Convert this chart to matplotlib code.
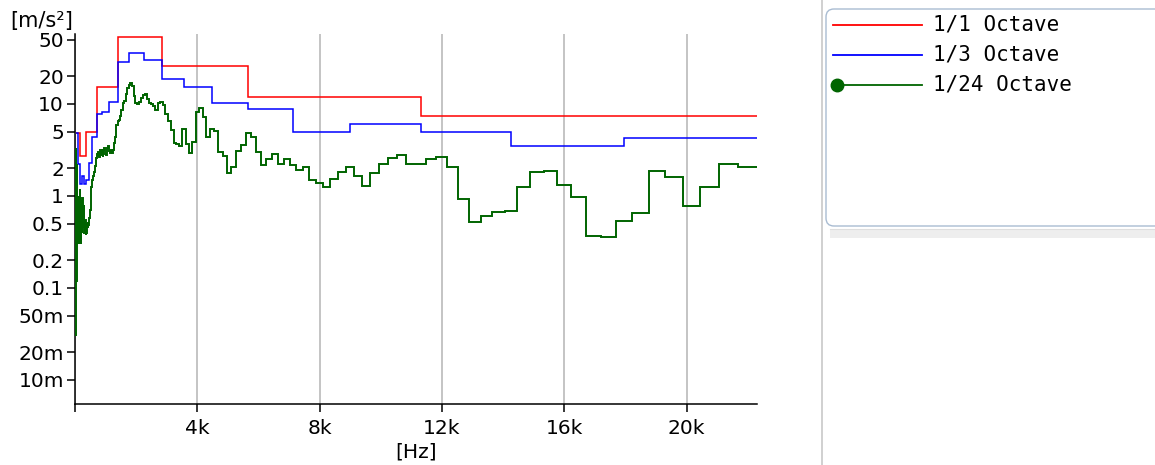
"""Acceleration spectrum in 1/1, 1/3 and 1/24 octave bands, step plot on a log level axis."""

import matplotlib

matplotlib.use("Agg")
import matplotlib.pyplot as plt
import numpy as np
from matplotlib.patches import FancyBboxPatch, Rectangle

plt.rcParams["font.family"] = ["DejaVu Sans", "Noto Sans CJK JP"]

W, H = 1155, 465

# 1/1 octave bands (nominal centre Hz) and levels [m/s2]
OCT_CENTERS = [31.5, 63, 125, 250, 500, 1000, 2000, 4000, 8000, 16000]
OCT_LEVELS = [4.8, 4.8, 4.8, 2.7, 4.9, 15.4, 54.0, 26.1, 12.0, 7.4]

# 1/3 octave bands
THIRD_CENTERS = [25, 31.5, 40, 50, 63, 80, 100, 125, 160, 200, 250, 315, 400, 500,
                 630, 800, 1000, 1250, 1600, 2000, 2500, 3150, 4000, 5000, 6300,
                 8000, 10000, 12500, 16000, 20000]
THIRD_LEVELS = [4.8, 4.8, 4.8, 4.8, 4.8, 4.8, 4.8, 2.2, 2.2, 1.35, 1.65, 1.35, 1.5, 2.3,
                4.4, 7.7, 8.2, 10.6, 28.4, 35.7, 29.8, 18.9, 15.2, 10.2, 8.9,
                5.0, 6.05, 5.0, 3.5, 4.25]

# 1/24 octave bands: band index n relative to 1 kHz, first band below
GREEN_FIRST_BAND = -120
GREEN_LEVELS = [
    # n = -120 .. -25 (below 500 Hz)
    0.03, 3.3, 0.08, 1.2, 0.15, 2.5, 0.3, 0.9, 0.06, 1.8, 0.4, 2.8,
    0.2, 1.0, 0.5, 3.0, 0.12, 1.5, 0.6, 2.2, 0.25, 0.9, 0.45, 1.6,
    0.2, 1.1, 0.35, 0.8, 0.25, 1.3, 0.5, 0.9, 0.3, 0.7, 0.45, 1.0,
    0.3, 0.6, 0.4, 0.85, 0.35, 0.55, 0.3, 0.75, 0.4, 0.6, 0.35, 0.5,
    0.3, 0.7, 0.4, 0.9, 0.35, 0.6, 0.45, 1.2, 0.4, 0.55, 0.35, 0.8,
    0.4, 0.5, 0.3, 0.65, 0.38, 0.9, 0.45, 0.6, 0.4, 0.75, 0.5, 0.95,
    0.45, 0.7, 0.5, 0.95, 0.55, 0.8, 0.45, 0.6, 0.4, 0.5, 0.42, 0.55,
    0.38, 0.45, 0.4, 0.48, 0.42, 0.5, 0.45, 0.52, 0.48, 0.55, 0.58, 0.62,
    # n = -24 .. 48
    0.70, 0.91, 1.10, 1.25, 1.38, 1.49, 1.57, 1.65, 1.82, 1.91, 2.12, 2.34,
    2.59, 2.86, 2.72, 3.01, 2.65, 2.93, 3.16, 2.79, 3.16, 2.65, 3.16, 3.33,
    2.86, 2.79, 3.33, 3.49, 3.09, 2.94, 3.16, 2.94, 3.16, 3.77, 4.38, 5.91,
    6.53, 6.70, 7.41, 8.61, 10.3, 10.8, 12.8, 14.9, 16.1, 16.9, 15.7, 12.2,
    10.3, 10.0, 10.5, 11.6, 12.5, 12.8, 11.3, 10.3, 10.0, 9.51, 8.61, 10.3,
    10.5, 9.75, 7.78, 6.53, 5.21, 3.77, 3.68, 3.49, 5.35, 3.68, 2.94, 3.86, 8.19,
    # n = 49 .. 65
    8.98, 7.28, 4.41, 5.31, 5.13, 3.03, 2.72, 1.77, 2.05, 3.11, 3.58, 4.88,
    4.41, 3.03, 2.17, 2.51, 2.86,
    # n = 66 .. 107
    2.2, 2.5, 2.17, 1.90, 2.07, 1.48, 1.37, 1.26, 1.54, 1.82,
    2.07, 1.66, 1.27, 1.77, 2.23, 2.57, 2.8, 2.2, 2.23, 2.5,
    2.63, 2.05, 0.92, 0.52, 0.60, 0.67, 0.68, 1.25, 1.84, 1.87,
    1.33, 0.98, 0.37, 0.355, 0.53, 0.655, 1.87, 1.60, 0.775, 1.26,
    2.2, 2.08,
]

LABELS = ["1/1 Octave", "1/3 Octave", "1/24 Octave"]
COLORS = ["#ff0000", "#0000ff", "#006400"]

Y_TICKS = [0.01, 0.02, 0.05, 0.1, 0.2, 0.5, 1, 2, 5, 10, 20, 50]
Y_TICK_LABELS = ["10m", "20m", "50m", "0.1", "0.2", "0.5", "1", "2", "5", "10", "20", "50"]
X_TICKS = [0, 4000, 8000, 12000, 16000, 20000]
X_TICK_LABELS = ["", "4k", "8k", "12k", "16k", "20k"]


def band_edges(band_index, n):
    """Edges of fractional-octave bands given their integer index relative to 1 kHz."""
    band_index = np.asarray(band_index, dtype=float)
    lower = 1000.0 * 2 ** ((band_index - 0.5) / n)
    return np.append(lower, 1000.0 * 2 ** ((band_index[-1] + 0.5) / n))


def nominal_to_index(centers, n):
    return np.round(n * np.log2(np.asarray(centers, dtype=float) / 1000.0))


def main() -> None:
    fig = plt.figure(figsize=(W / 100, H / 100), dpi=100)
    ax = fig.add_axes([75 / W, 1 - 404 / H, (757 - 75) / W, (404 - 34) / H])

    series = [
        (band_edges(nominal_to_index(OCT_CENTERS, 1), 1), OCT_LEVELS),
        (band_edges(nominal_to_index(THIRD_CENTERS, 3), 3), THIRD_LEVELS),
        (band_edges(np.arange(GREEN_FIRST_BAND, GREEN_FIRST_BAND + len(GREEN_LEVELS)), 24),
         GREEN_LEVELS),
    ]
    widths = [1.1, 1.1, 1.4]
    for (edges, levels), color, lw in zip(series, COLORS, widths):
        ax.stairs(levels, edges, baseline=None, color=color, lw=lw, zorder=3)

    ax.set_yscale("log")
    ax.set_xlim(0, 22300)
    ax.set_ylim(0.00548, 57.6)
    ax.set_yticks(Y_TICKS, Y_TICK_LABELS)
    ax.yaxis.set_minor_locator(matplotlib.ticker.NullLocator())
    ax.set_xticks(X_TICKS, X_TICK_LABELS)
    ax.grid(axis="x", color="#c4c4c4", lw=1.4)
    ax.set_axisbelow(True)
    for side in ("top", "right"):
        ax.spines[side].set_visible(False)
    for side in ("left", "bottom"):
        ax.spines[side].set_linewidth(1.1)
    ax.tick_params(direction="out", length=6, width=1.1, labelsize=14.5, pad=2)
    ax.tick_params(axis="x", pad=5)
    ax.set_xlabel("[Hz]", fontsize=14.5)
    ax.xaxis.set_label_coords(0.5, -0.105)

    # figure-level decorations drawn in pixel coordinates
    ov = fig.add_axes([0, 0, 1, 1])
    ov.set_xlim(0, W)
    ov.set_ylim(H, 0)
    ov.axis("off")
    ov.text(10, 21, "[m/s²]", ha="left", va="center", fontsize=15)
    ov.plot([822, 822], [0, H], color="#c8c8c8", lw=1.2)
    ov.add_patch(FancyBboxPatch((826, 9), 345, 217, boxstyle="round,pad=0,rounding_size=8",
                                fc="white", ec="#a9bcd2", lw=1.0))
    ov.add_patch(Rectangle((830, 230), 330, 8, fc="#eeeeee", ec="none"))
    ov.plot([830, W], [228.5, 228.5], color="#dedede", lw=0.8)
    for i, (label, color) in enumerate(zip(LABELS, COLORS)):
        y = 25 + 30 * i
        ov.plot([833, 922], [y, y], color=color, lw=1.3)
        if i == 2:
            ov.plot([837], [y], "o", color=color, ms=9)
        ov.text(933, y, label, ha="left", va="center", fontsize=15,
                family="DejaVu Sans Mono")

    fig.savefig("out.png", dpi=100)


if __name__ == "__main__":
    main()
